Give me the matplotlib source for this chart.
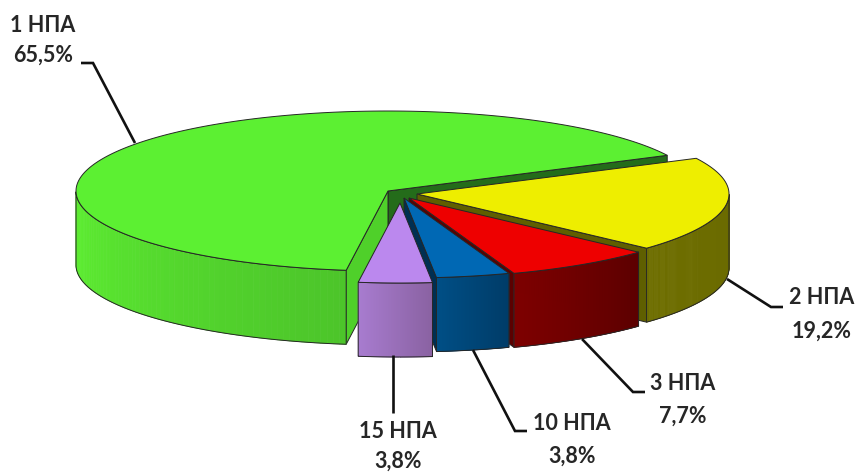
"""3D exploded pie of NPA shares, drawn by hand since matplotlib has no 3D pie."""
import numpy as np
import matplotlib
matplotlib.use('Agg')
import matplotlib.pyplot as plt
from matplotlib.colors import to_rgb
from matplotlib.patches import Polygon

plt.rcParams['font.family'] = ['Lato', 'Open Sans', 'DejaVu Sans']

# Data
names = ['1 НПА', '15 НПА', '10 НПА', '3 НПА', '2 НПА']
shares = [65.5, 3.8, 3.8, 7.7, 19.2]
share_labels = ['65,5%', '3,8%', '3,8%', '7,7%', '19,2%']

# Style per slice
centers = [(388, 191), (400, 203), (404, 198), (409, 198), (417, 194)]
top_colors = ['#5cf032', '#bb88ee', '#0068b4', '#ee0000', '#eeee00']
rim_left = ['#5ef032', '#a87cd0', '#004f86', '#7e0000', '#6e6e00']
rim_right = ['#4cc42a', '#8a62a2', '#003c68', '#5c0000', '#6a6a00']
wall_start = ['#246c1a', '#6a4a80', '#002f52', '#5c0000', '#5f5f00']
wall_end = ['#4fd02a', '#6a4a80', '#002f52', '#5c0000', '#5f5f00']

# Label positions, leader lines
label_xy = [(43, 25, 55), (398, 431, 461), (572, 423, 456), (683, 383, 416), (822, 298, 331)]
leaders = [
    [(135, 143), (93, 63), (81, 63)],
    [(393, 355), (393, 413)],
    [(473, 350), (515, 431), (527, 431)],
    [(582, 339), (633, 392), (645, 392)],
    [(727, 279), (771, 307), (783, 307)],
]

RX, RY, DEPTH = 312, 80, 74
START = 26.5
EDGE = '#262626'


def rim_point(center, t):
    return center[0] + RX * np.cos(t), center[1] - RY * np.sin(t)


def wall_visible(t, side):
    # side -1: the slice's start edge, +1: its end edge. Viewer sits at t = 270 deg
    normal = t + side * np.pi / 2
    return np.cos(normal - 1.5 * np.pi) > 0


def draw_wall(ax, center, t, color):
    x, y = rim_point(center, t)
    pts = [center, (x, y), (x, y + DEPTH), (center[0], center[1] + DEPTH)]
    ax.add_patch(Polygon(pts, closed=True, facecolor=color, edgecolor=EDGE, lw=0.7))


def draw_slice(ax, i, t0, t1):
    center = centers[i]

    # walls first, the rim and the top go over them
    if wall_visible(t0, -1):
        draw_wall(ax, center, t0, wall_start[i])
    if wall_visible(t1, 1):
        draw_wall(ax, center, t1, wall_end[i])

    # front part of the rim, in thin strips for the gradient
    ts = np.linspace(t0, t1, 200)
    front = ts[np.sin(ts) < 0]
    if len(front) > 1:
        c0, c1 = np.array(to_rgb(rim_left[i])), np.array(to_rgb(rim_right[i]))
        for k in range(len(front) - 1):
            xa, ya = rim_point(center, front[k])
            xb, yb = rim_point(center, front[k + 1])
            col = c0 + (c1 - c0) * k / (len(front) - 1)
            ax.add_patch(Polygon([(xa, ya), (xb, yb), (xb, yb + DEPTH), (xa, ya + DEPTH)],
                                 closed=True, facecolor=col, edgecolor=col, lw=0.5))
        xs, ys = rim_point(center, front)
        outline = list(zip(xs, ys)) + list(zip(xs[::-1], ys[::-1] + DEPTH))
        ax.add_patch(Polygon(outline, closed=True, fill=False, edgecolor=EDGE, lw=0.7))

    # top face
    xs, ys = rim_point(center, ts)
    top = [center] + list(zip(xs, ys))
    ax.add_patch(Polygon(top, closed=True, facecolor=top_colors[i], edgecolor=EDGE, lw=0.7))


fig = plt.figure(figsize=(8.6, 4.72), dpi=100)
ax = fig.add_axes([0, 0, 1, 1])
ax.set_xlim(0, 860)
ax.set_ylim(472, 0)
ax.axis('off')

# angles run counter-clockwise in the order of shares
steps = np.radians(np.array(shares) / sum(shares) * 360)
ends = np.radians(START) + np.cumsum(steps)
starts = ends - steps

# back slices first: green, yellow, red, blue, purple
for i in [0, 4, 3, 2, 1]:
    draw_slice(ax, i, starts[i], ends[i])

for line in leaders:
    xs, ys = zip(*line)
    ax.plot(xs, ys, color='#111111', lw=1.9, solid_joinstyle='miter', solid_capstyle='butt')

for name, pct, (x, y1, y2) in zip(names, share_labels, label_xy):
    ax.text(x, y1, name, ha='center', va='center', fontsize=15.5, fontweight='bold', color='#262626')
    ax.text(x, y2, pct, ha='center', va='center', fontsize=15.5, fontweight='bold', color='#262626')

plt.savefig('out.png', dpi=100)
